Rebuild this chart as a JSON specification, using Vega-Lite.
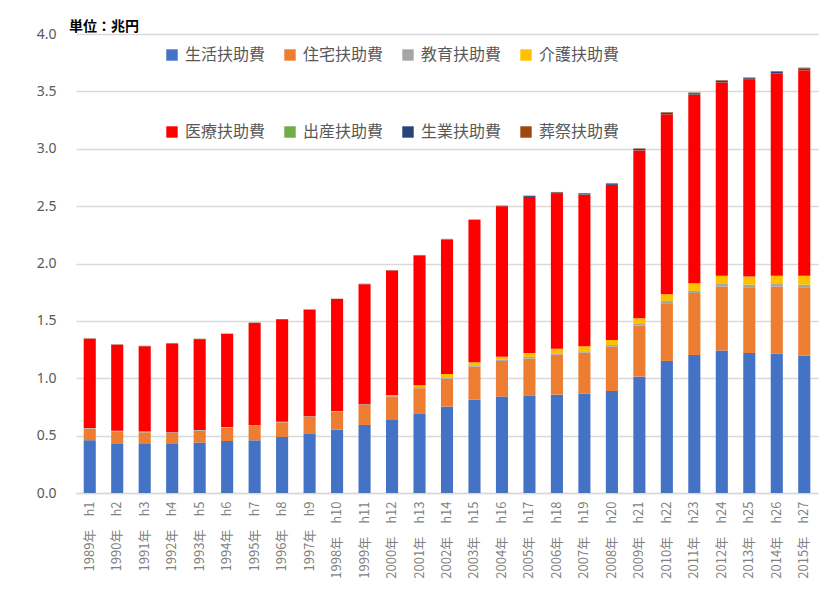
{
  "$schema": "https://vega.github.io/schema/vega-lite/v6.json",
  "width": 742,
  "height": 459,
  "autosize": {"type": "none"},
  "padding": {"left": 76, "top": 34, "right": 21, "bottom": 99},
  "background": "white",
  "title": {"text": "単位：兆円", "anchor": "start", "frame": "group", "dx": -7, "dy": 9, "offset": 2, "font": "Noto Sans CJK JP", "fontSize": 14, "fontWeight": "bold", "color": "#000000"},
  "data": {"values": [
    {"y": "1989年　h1", "生活扶助費": 0.46, "住宅扶助費": 0.101, "教育扶助費": 0.006, "介護扶助費": 0, "医療扶助費": 0.778, "出産扶助費": 0.0005, "生業扶助費": 0.001, "葬祭扶助費": 0.002},
    {"y": "1990年　h2", "生活扶助費": 0.433, "住宅扶助費": 0.104, "教育扶助費": 0.006, "介護扶助費": 0, "医療扶助費": 0.75, "出産扶助費": 0.0005, "生業扶助費": 0.001, "葬祭扶助費": 0.002},
    {"y": "1991年　h3", "生活扶助費": 0.427, "住宅扶助費": 0.102, "教育扶助費": 0.006, "介護扶助費": 0, "医療扶助費": 0.744, "出産扶助費": 0.0005, "生業扶助費": 0.001, "葬祭扶助費": 0.002},
    {"y": "1992年　h4", "生活扶助費": 0.427, "住宅扶助費": 0.096, "教育扶助費": 0.006, "介護扶助費": 0, "医療扶助費": 0.773, "出産扶助費": 0.0005, "生業扶助費": 0.001, "葬祭扶助費": 0.002},
    {"y": "1993年　h5", "生活扶助費": 0.439, "住宅扶助費": 0.104, "教育扶助費": 0.006, "介護扶助費": 0, "医療扶助費": 0.791, "出産扶助費": 0.0005, "生業扶助費": 0.001, "葬祭扶助費": 0.002},
    {"y": "1994年　h6", "生活扶助費": 0.453, "住宅扶助費": 0.116, "教育扶助費": 0.006, "介護扶助費": 0, "医療扶助費": 0.811, "出産扶助費": 0.0005, "生業扶助費": 0.001, "葬祭扶助費": 0.002},
    {"y": "1995年　h7", "生活扶助費": 0.459, "住宅扶助費": 0.125, "教育扶助費": 0.006, "介護扶助費": 0, "医療扶助費": 0.892, "出産扶助費": 0.0005, "生業扶助費": 0.001, "葬祭扶助費": 0.002},
    {"y": "1996年　h8", "生活扶助費": 0.488, "住宅扶助費": 0.128, "教育扶助費": 0.006, "介護扶助費": 0, "医療扶助費": 0.886, "出産扶助費": 0.0005, "生業扶助費": 0.006, "葬祭扶助費": 0.002},
    {"y": "1997年　h9", "生活扶助費": 0.52, "住宅扶助費": 0.143, "教育扶助費": 0.006, "介護扶助費": 0, "医療扶助費": 0.929, "出産扶助費": 0.0005, "生業扶助費": 0.001, "葬祭扶助費": 0.002},
    {"y": "1998年　h10", "生活扶助費": 0.552, "住宅扶助費": 0.157, "教育扶助費": 0.006, "介護扶助費": 0, "医療扶助費": 0.975, "出産扶助費": 0.0005, "生業扶助費": 0.001, "葬祭扶助費": 0.002},
    {"y": "1999年　h11", "生活扶助費": 0.593, "住宅扶助費": 0.174, "教育扶助費": 0.006, "介護扶助費": 0, "医療扶助費": 1.047, "出産扶助費": 0.0005, "生業扶助費": 0.001, "葬祭扶助費": 0.002},
    {"y": "2000年　h12", "生活扶助費": 0.636, "住宅扶助費": 0.206, "教育扶助費": 0.006, "介護扶助費": 0.004, "医療扶助費": 1.088, "出産扶助費": 0.0005, "生業扶助費": 0.001, "葬祭扶助費": 0.002},
    {"y": "2001年　h13", "生活扶助費": 0.689, "住宅扶助費": 0.224, "教育扶助費": 0.01, "介護扶助費": 0.017, "医療扶助費": 1.13, "出産扶助費": 0.0005, "生業扶助費": 0.001, "葬祭扶助費": 0.003},
    {"y": "2002年　h14", "生活扶助費": 0.752, "住宅扶助費": 0.245, "教育扶助費": 0.01, "介護扶助費": 0.03, "医療扶助費": 1.173, "出産扶助費": 0.0005, "生業扶助費": 0.001, "葬祭扶助費": 0.003},
    {"y": "2003年　h15", "生活扶助費": 0.813, "住宅扶助費": 0.288, "教育扶助費": 0.012, "介護扶助費": 0.026, "医療扶助費": 1.241, "出産扶助費": 0.0005, "生業扶助費": 0.001, "葬祭扶助費": 0.003},
    {"y": "2004年　h16", "生活扶助費": 0.84, "住宅扶助費": 0.311, "教育扶助費": 0.011, "介護扶助費": 0.026, "医療扶助費": 1.312, "出産扶助費": 0.0005, "生業扶助費": 0.001, "葬祭扶助費": 0.003},
    {"y": "2005年　h17", "生活扶助費": 0.846, "住宅扶助費": 0.325, "教育扶助費": 0.015, "介護扶助費": 0.034, "医療扶助費": 1.36, "出産扶助費": 0.0005, "生業扶助費": 0.008, "葬祭扶助費": 0.003},
    {"y": "2006年　h18", "生活扶助費": 0.857, "住宅扶助費": 0.349, "教育扶助費": 0.012, "介護扶助費": 0.04, "医療扶助費": 1.349, "出産扶助費": 0.0005, "生業扶助費": 0.012, "葬祭扶助費": 0.004},
    {"y": "2007年　h19", "生活扶助費": 0.866, "住宅扶助費": 0.357, "教育扶助費": 0.012, "介護扶助費": 0.044, "医療扶助費": 1.321, "出産扶助費": 0.0005, "生業扶助費": 0.01, "葬祭扶助費": 0.004},
    {"y": "2008年　h20", "生活扶助費": 0.889, "住宅扶助費": 0.386, "教育扶助費": 0.015, "介護扶助費": 0.044, "医療扶助費": 1.351, "出産扶助費": 0.0005, "生業扶助費": 0.01, "葬祭扶助費": 0.004},
    {"y": "2009年　h21", "生活扶助費": 1.014, "住宅扶助費": 0.444, "教育扶助費": 0.015, "介護扶助費": 0.05, "医療扶助費": 1.462, "出産扶助費": 0.001, "生業扶助費": 0.012, "葬祭扶助費": 0.005},
    {"y": "2010年　h22", "生活扶助費": 1.151, "住宅扶助費": 0.503, "教育扶助費": 0.02, "介護扶助費": 0.058, "医療扶助費": 1.568, "出産扶助費": 0.001, "生業扶助費": 0.013, "葬祭扶助費": 0.005},
    {"y": "2011年　h23", "生活扶助費": 1.203, "住宅扶助費": 0.54, "教育扶助費": 0.018, "介護扶助費": 0.067, "医療扶助費": 1.642, "出産扶助費": 0.002, "生業扶助費": 0.012, "葬祭扶助費": 0.006},
    {"y": "2012年　h24", "生活扶助費": 1.241, "住宅扶助費": 0.558, "教育扶助費": 0.022, "介護扶助費": 0.073, "医療扶助費": 1.683, "出産扶助費": 0.001, "生業扶助費": 0.013, "葬祭扶助費": 0.006},
    {"y": "2013年　h25", "生活扶助費": 1.221, "住宅扶助費": 0.572, "教育扶助費": 0.022, "介護扶助費": 0.071, "医療扶助費": 1.714, "出産扶助費": 0.001, "生業扶助費": 0.014, "葬祭扶助費": 0.006},
    {"y": "2014年　h26", "生活扶助費": 1.215, "住宅扶助費": 0.584, "教育扶助費": 0.022, "介護扶助費": 0.073, "医療扶助費": 1.761, "出産扶助費": 0.001, "生業扶助費": 0.014, "葬祭扶助費": 0.006},
    {"y": "2015年　h27", "生活扶助費": 1.197, "住宅扶助費": 0.596, "教育扶助費": 0.022, "介護扶助費": 0.079, "医療扶助費": 1.791, "出産扶助費": 0.001, "生業扶助費": 0.014, "葬祭扶助費": 0.007}
  ]},
  "transform": [
    {"fold": ["生活扶助費", "住宅扶助費", "教育扶助費", "介護扶助費", "医療扶助費", "出産扶助費", "生業扶助費", "葬祭扶助費"], "as": ["cat", "v"]}
  ],
  "mark": {"type": "bar"},
  "encoding": {
    "x": {
      "field": "y", "type": "nominal", "sort": null,
      "scale": {"paddingInner": 0.56, "paddingOuter": 0.28},
      "axis": {"title": null, "labelAngle": -90, "labelAlign": "right", "labelBaseline": "middle", "labelPadding": 8, "labelFont": "Noto Sans CJK JP", "labelFontSize": 13, "labelColor": "#7F7F7F", "ticks": false, "domainColor": "#D9D9D9", "domainWidth": 1.5, "grid": false}
    },
    "y": {
      "field": "v", "type": "quantitative", "stack": "zero",
      "scale": {"domain": [0, 4], "nice": false},
      "axis": {"title": null, "values": [0, 0.5, 1, 1.5, 2, 2.5, 3, 3.5, 4], "format": ".1f", "labelPadding": 20, "labelFont": "Noto Sans", "labelFontSize": 14, "labelColor": "#595959", "ticks": false, "domain": false, "gridColor": "#D9D9D9", "gridWidth": 1.5}
    },
    "color": {
      "field": "cat", "type": "nominal",
      "sort": ["生活扶助費", "住宅扶助費", "教育扶助費", "介護扶助費", "医療扶助費", "出産扶助費", "生業扶助費", "葬祭扶助費"],
      "scale": {
        "domain": ["生活扶助費", "住宅扶助費", "教育扶助費", "介護扶助費", "医療扶助費", "出産扶助費", "生業扶助費", "葬祭扶助費"],
        "range": ["#4472C4", "#ED7D31", "#A5A5A5", "#FFC000", "#FF0000", "#70AD47", "#264478", "#9E480E"]
      },
      "legend": {
        "title": null, "orient": "none", "legendX": 88, "legendY": 13, "columns": 4, "direction": "horizontal",
        "symbolType": "square", "symbolSize": 130, "symbolStrokeWidth": 0, "symbolOffset": 0,
        "labelFont": "Noto Sans CJK JP", "labelFontSize": 16, "labelColor": "#595959", "labelOffset": 5,
        "columnPadding": 16, "rowPadding": 61
      }
    },
    "order": {"field": "ord", "type": "quantitative"}
  },
  "config": {"view": {"stroke": null}}
}
